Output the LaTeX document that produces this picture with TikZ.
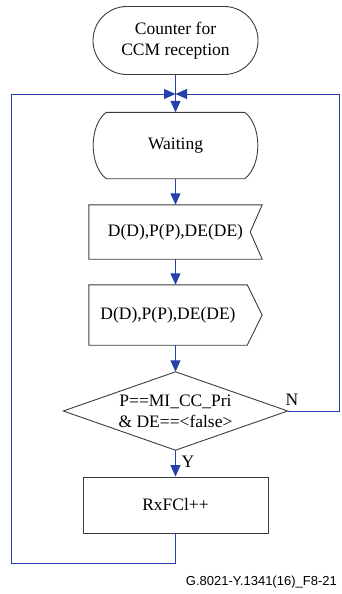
\documentclass[tikz,border=0pt]{standalone}
\usepackage{fontspec}
\setmainfont{Liberation Serif}
\newfontfamily\capfont{Liberation Sans}
\usetikzlibrary{arrows.meta}
\definecolor{flowblue}{RGB}{36,66,170}
\definecolor{boxline}{RGB}{60,60,60}

\begin{document}
\begin{tikzpicture}[x=1pt,y=-1pt,
  outline/.style={draw=boxline, line width=0.9pt},
  holder/.style={inner sep=0pt, align=center, font=\fontsize{17.5}{21}\selectfont},
  flow/.style={draw=flowblue, line width=1pt},
  arr/.style={flow, -{Triangle[width=10pt,length=11.5pt]}},
  tag/.style={inner sep=0pt, font=\fontsize{17.5}{21}\selectfont}
]
\useasboundingbox (0,0) rectangle (341,594);

% start terminal
\node[holder, outline, rounded corners=33.9pt, minimum width=165pt, minimum height=68pt]
  (start) at (175.5,40.5) {Counter for\\CCM reception};

% state "Waiting": straight top and bottom, bulging sides
\node[holder, minimum width=138pt, minimum height=66pt] (wait) at (175.5,145.5) {Waiting};
\draw[outline] (wait.north west) -- (wait.north east)
  .. controls +(17.5,13) and +(17.5,-13) .. (wait.south east)
  -- (wait.south west)
  .. controls +(-17.5,-13) and +(-17.5,13) .. (wait.north west);

% input signal (notch on the right)
\node[holder, minimum width=173pt, minimum height=54pt] (recv) at (175.5,232) {D(D),P(P),DE(DE)};
\draw[outline] (recv.north west) -- (recv.north east) -- ([xshift=-12pt]recv.east)
  -- (recv.south east) -- (recv.south west) -- cycle;

% output signal (point on the right)
\node[holder, minimum width=158pt, minimum height=60pt] (send) at (168,315) {D(D),P(P),DE(DE)};
\draw[outline] (send.north west) -- (send.north east) -- ([xshift=15pt]send.east)
  -- (send.south east) -- (send.south west) -- cycle;

% decision
\node[holder, minimum width=224pt, minimum height=78pt] (test) at (175.5,411)
  {P==MI\_CC\_Pri\\\& DE==<false>};
\draw[outline] (test.north) -- (test.east) -- (test.south) -- (test.west) -- cycle;

% task
\node[holder, outline, minimum width=185pt, minimum height=56pt] (count) at (175.5,505) {RxFCl++};

% loop routing points
\coordinate (join) at (175.5,94);
\coordinate (lowleft) at (11.7,563);
\coordinate (upleft) at (11.7,94);
\coordinate (upright) at (339.8,94);

% connectors
\draw[flow] (start.south) -- (join);
\draw[arr] (join) -- (wait.north);
\draw[arr] (wait.south) -- (recv.north);
\draw[arr] (recv.south) -- (recv.south |- send.north);
\draw[arr] (recv.south |- send.south) -- (test.north);
\draw[arr] (test.south) -- (count.north);
\draw[arr] (count.south) -- (count.south |- lowleft) -- (lowleft) -- (upleft) -- (join);
\draw[arr] (test.east) -- (test.east -| upright) -- (upright) -- (join);

% branch labels
\node[tag] (yes) at (188,462) {Y};
\node[tag] (no) at (292,400) {N};

% figure number
\node[inner sep=0pt, anchor=base east, font=\capfont\fontsize{13}{15}\selectfont]
  (figno) at (337,585.5) {G.8021-Y.1341(16)\_F8-21};
\end{tikzpicture}
\end{document}
